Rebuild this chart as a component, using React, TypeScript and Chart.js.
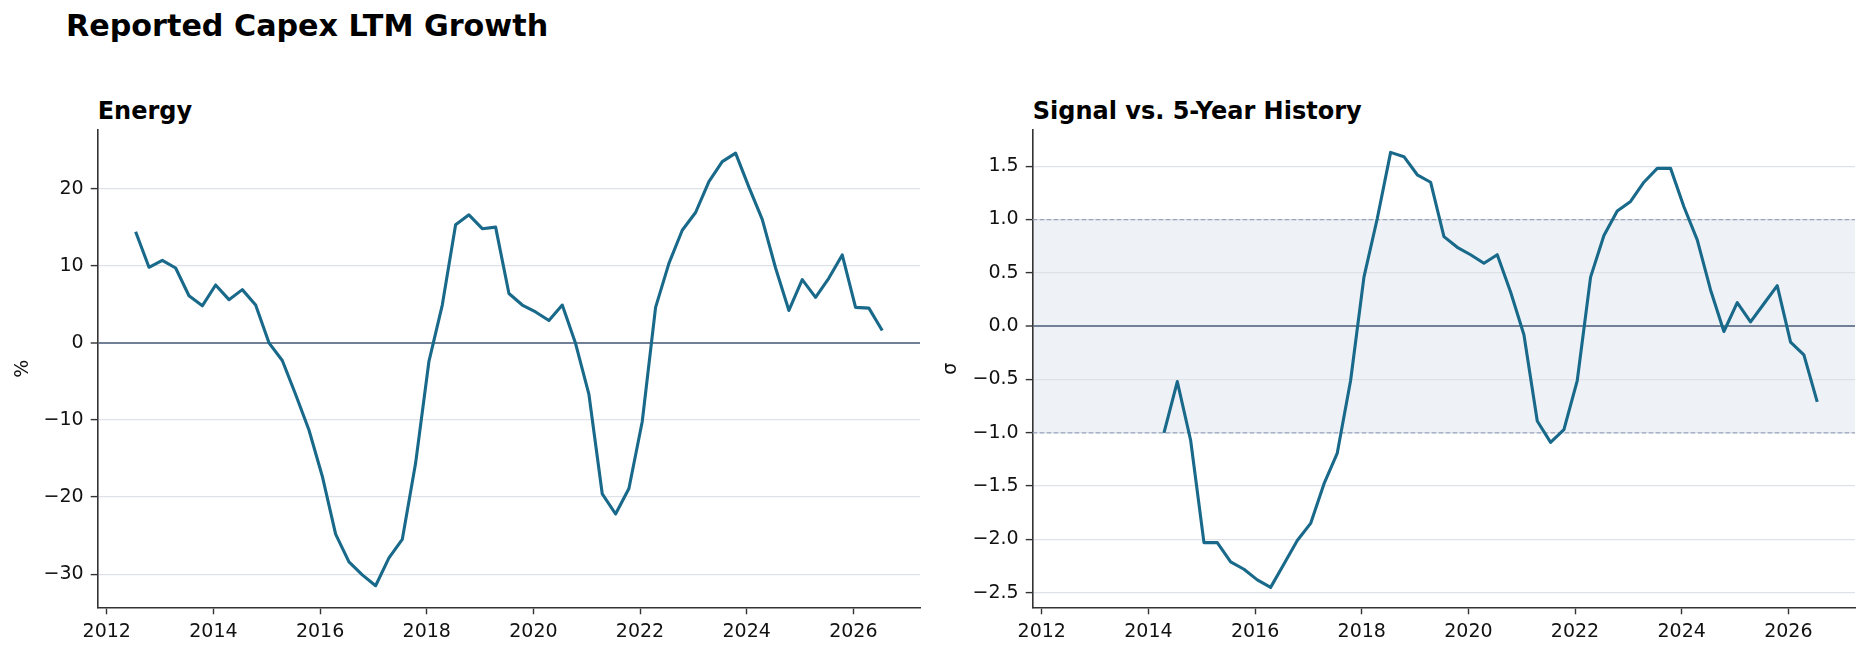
import React, { useEffect, useRef } from 'react';
import { Chart, registerables } from 'chart.js';

Chart.register(...registerables);

// ---------- data ----------
const QUARTER_DATES = [
  '2012-07', '2012-10', '2013-01', '2013-04', '2013-07', '2013-10',
  '2014-01', '2014-04', '2014-07', '2014-10', '2015-01', '2015-04',
  '2015-07', '2015-10', '2016-01', '2016-04', '2016-07', '2016-10',
  '2017-01', '2017-04', '2017-07', '2017-10', '2018-01', '2018-04',
  '2018-07', '2018-10', '2019-01', '2019-04', '2019-07', '2019-10',
  '2020-01', '2020-04', '2020-07', '2020-10', '2021-01', '2021-04',
  '2021-07', '2021-10', '2022-01', '2022-04', '2022-07', '2022-10',
  '2023-01', '2023-04', '2023-07', '2023-10', '2024-01', '2024-04',
  '2024-07', '2024-10', '2025-01', '2025-04', '2025-07', '2025-10',
  '2026-01', '2026-04', '2026-07',
];

const ENERGY_CAPEX_GROWTH = [
  14.4, 9.8, 10.7, 9.7, 6.1, 4.8, 7.5, 5.6, 6.9, 4.9, 0.0, -2.3,
  -6.7, -11.3, -17.3, -24.8, -28.4, -30.1, -31.5, -27.9, -25.5, -15.6, -2.4, 4.9,
  15.3, 16.6, 14.8, 15.0, 6.4, 4.9, 4.0, 2.9, 4.9, -0.1, -6.7, -19.6,
  -22.2, -18.9, -10.2, 4.6, 10.3, 14.6, 16.9, 20.9, 23.5, 24.6, 20.2, 16.0,
  9.7, 4.2, 8.2, 5.9, 8.4, 11.4, 4.6, 4.5, 1.6,
];

// z-score vs 5-year history starts at 2014-04
const SIGNAL_START_DATE = '2014-04';
const SIGNAL_Z = [
  -1.0, -0.52, -1.07, -2.03, -2.03, -2.21, -2.28, -2.38, -2.45, -2.23,
  -2.01, -1.85, -1.48, -1.19, -0.51, 0.46, 1.01, 1.63, 1.59, 1.42,
  1.35, 0.84, 0.74, 0.67, 0.59, 0.67, 0.32, -0.08, -0.89, -1.09,
  -0.97, -0.51, 0.46, 0.85, 1.08, 1.17, 1.35, 1.48, 1.48, 1.12,
  0.81, 0.34, -0.05, 0.22, 0.04, 0.21, 0.38, -0.15, -0.27, -0.71,
];

const X_TICKS = [2012, 2014, 2016, 2018, 2020, 2022, 2024, 2026];
const X_RANGE = [2011.83, 2027.25];
const LEFT_Y_TICKS = [-30, -20, -10, 0, 10, 20];
const LEFT_Y_RANGE = [-34.3, 27.6];
const RIGHT_Y_TICKS = [-2.5, -2.0, -1.5, -1.0, -0.5, 0.0, 0.5, 1.0, 1.5];
const RIGHT_Y_RANGE = [-2.637, 1.84];
const BAND = [-1, 1];

const SUPTITLE = 'Reported Capex LTM Growth';
const LEFT_TITLE = 'Energy';
const RIGHT_TITLE = 'Signal vs. 5-Year History';
const LEFT_YLABEL = '%';
const RIGHT_YLABEL = 'σ';

// ---------- style ----------
const FONT = '"DejaVu Sans", "Liberation Sans", sans-serif';
const LINE_COLOR = '#19698a';
const GRID_COLOR = '#dfe1e8';
const ZERO_COLOR = '#718097';
const SPINE_COLOR = '#333333';
const TEXT_COLOR = '#111111';
const BAND_COLOR = '#eef2f7';
const BAND_EDGE = '#9aa5bb';
const TICK_SIZE = 19;

const W = 1869;
const H = 656;
const SPLIT = 935;
const AREA_TOP = 130;
const AREA_BOTTOM = 607.3;
const YAXIS_W = 97.7;

function toYear(s: string): number {
  const [y, m] = s.split('-').map(Number);
  return y + (m - 0.5) / 12;
}

function fmtMinus(v: number, digits: number): string {
  const s = Math.abs(v).toFixed(digits);
  return v < 0 ? '\u2212' + s : s;
}

type PanelProps = {
  left: number;
  width: number;
  areaRight: number;
  points: { x: number; y: number }[];
  yTicks: number[];
  yRange: number[];
  yDigits: number;
  yLabel: string;
  yLabelPad: number;
  band?: number[];
};

function Panel(props: PanelProps) {
  const ref = useRef<HTMLCanvasElement | null>(null);

  useEffect(() => {
    if (!ref.current) return;
    const { points, yTicks, yRange, yDigits, yLabel, yLabelPad, band, width, areaRight } = props;

    const bandPlugin = {
      id: 'sigmaBand',
      beforeDraw(chart: any) {
        if (!band) return;
        const { ctx, chartArea, scales } = chart;
        const yTop = scales.y.getPixelForValue(band[1]);
        const yBot = scales.y.getPixelForValue(band[0]);
        ctx.save();
        ctx.fillStyle = BAND_COLOR;
        ctx.fillRect(chartArea.left, yTop, chartArea.right - chartArea.left, yBot - yTop);
        ctx.restore();
      },
      beforeDatasetsDraw(chart: any) {
        if (!band) return;
        const { ctx, chartArea, scales } = chart;
        ctx.save();
        ctx.strokeStyle = BAND_EDGE;
        ctx.lineWidth = 1.3;
        ctx.setLineDash([4.5, 2.5]);
        for (const v of band) {
          const py = scales.y.getPixelForValue(v);
          ctx.beginPath();
          ctx.moveTo(chartArea.left, py);
          ctx.lineTo(chartArea.right, py);
          ctx.stroke();
        }
        ctx.restore();
      },
    };

    const chart = new Chart(ref.current, {
      type: 'line',
      data: {
        datasets: [
          {
            data: points,
            borderColor: LINE_COLOR,
            borderWidth: 3.1,
            pointRadius: 0,
            tension: 0,
            fill: false,
            borderJoinStyle: 'round',
            borderCapStyle: 'butt',
          },
        ],
      },
      options: {
        responsive: false,
        animation: false,
        events: [],
        layout: { padding: { top: AREA_TOP, left: 0, right: width - areaRight, bottom: 0 } },
        plugins: {
          legend: { display: false },
          tooltip: { enabled: false },
          title: { display: false },
        },
        scales: {
          x: {
            type: 'linear',
            min: X_RANGE[0],
            max: X_RANGE[1],
            afterBuildTicks: (scale: any) => {
              scale.ticks = X_TICKS.map((v) => ({ value: v }));
            },
            afterFit: (scale: any) => {
              scale.height = H - AREA_BOTTOM;
            },
            ticks: {
              callback: (v: any) => String(v),
              color: TEXT_COLOR,
              font: { family: FONT, size: TICK_SIZE },
              padding: 6.5,
              maxRotation: 0,
              autoSkip: false,
            },
            grid: {
              drawOnChartArea: false,
              drawTicks: true,
              tickLength: 7,
              tickColor: SPINE_COLOR,
              tickWidth: 1.4,
            },
            border: { display: true, color: SPINE_COLOR, width: 1.6 },
          },
          y: {
            type: 'linear',
            min: yRange[0],
            max: yRange[1],
            afterBuildTicks: (scale: any) => {
              scale.ticks = yTicks.map((v) => ({ value: v }));
            },
            afterFit: (scale: any) => {
              scale.width = YAXIS_W;
            },
            ticks: {
              callback: (v: any) => fmtMinus(Number(v), yDigits),
              color: TEXT_COLOR,
              font: { family: FONT, size: TICK_SIZE },
              padding: 7,
              autoSkip: false,
            },
            grid: {
              drawOnChartArea: true,
              drawTicks: true,
              tickLength: 7,
              tickColor: SPINE_COLOR,
              tickWidth: 1.4,
              color: (c: any) => (c.tick && c.tick.value === 0 ? ZERO_COLOR : GRID_COLOR),
              lineWidth: (c: any) => (c.tick && c.tick.value === 0 ? 2 : 1.2),
            },
            border: { display: true, color: SPINE_COLOR, width: 1.6 },
            title: {
              display: true,
              text: yLabel,
              color: TEXT_COLOR,
              font: { family: FONT, size: TICK_SIZE },
              padding: { top: yLabelPad, bottom: 0 },
            },
          },
        },
      },
      plugins: [bandPlugin],
    } as any);

    return () => {
      chart.destroy();
    };
  }, []);

  return (
    <canvas
      ref={ref}
      width={props.width}
      height={H}
      style={{ position: 'absolute', left: props.left, top: 0, width: props.width, height: H }}
    />
  );
}

export default function App() {
  const leftPoints = QUARTER_DATES.map((d, i) => ({ x: toYear(d), y: ENERGY_CAPEX_GROWTH[i] }));
  const start = QUARTER_DATES.indexOf(SIGNAL_START_DATE);
  const rightPoints = SIGNAL_Z.map((v, i) => ({ x: toYear(QUARTER_DATES[start + i]), y: v }));

  const titleStyle: React.CSSProperties = {
    position: 'absolute',
    fontFamily: FONT,
    fontWeight: 'bold',
    color: '#000',
    lineHeight: 1,
    whiteSpace: 'nowrap',
    margin: 0,
  };

  return (
    <div style={{ position: 'absolute', left: 0, top: 0, width: W, height: H, background: '#fff', overflow: 'hidden' }}>
      <div style={{ ...titleStyle, left: 66, top: 11.2, fontSize: 30.2 }}>{SUPTITLE}</div>
      <div style={{ ...titleStyle, left: 97.7, top: 99, fontSize: 24 }}>{LEFT_TITLE}</div>
      <div style={{ ...titleStyle, left: 1032.7, top: 99, fontSize: 24 }}>{RIGHT_TITLE}</div>
      <Panel
        left={0}
        width={SPLIT}
        areaRight={920}
        points={leftPoints}
        yTicks={LEFT_Y_TICKS}
        yRange={LEFT_Y_RANGE}
        yDigits={0}
        yLabel={LEFT_YLABEL}
        yLabelPad={11.5}
      />
      <Panel
        left={SPLIT}
        width={W - SPLIT}
        areaRight={1855 - SPLIT}
        points={rightPoints}
        yTicks={RIGHT_Y_TICKS}
        yRange={RIGHT_Y_RANGE}
        yDigits={1}
        yLabel={RIGHT_YLABEL}
        yLabelPad={5}
        band={BAND}
      />
    </div>
  );
}
